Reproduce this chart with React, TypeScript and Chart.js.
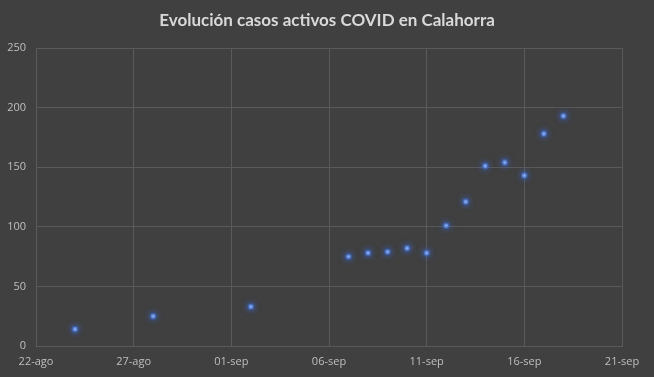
import React, { useEffect, useRef } from "react";
import { Chart, registerables } from "chart.js";

Chart.register(...registerables);

const TITLE = "Evolución casos activos COVID en Calahorra";
const dates = ["24-ago", "28-ago", "02-sep", "07-sep", "08-sep", "09-sep", "10-sep", "11-sep", "12-sep", "13-sep", "14-sep", "15-sep", "16-sep", "17-sep", "18-sep"];
const activeCases = [14, 25, 33, 75, 78, 79, 82, 78, 101, 121, 151, 154, 143, 178, 193];
const xTickLabels = ["22-ago", "27-ago", "01-sep", "06-sep", "11-sep", "16-sep", "21-sep"];
const yTicks = [0, 50, 100, 150, 200, 250];

const MONTH_START: Record<string, number> = { ago: 0, sep: 31 };
const dayIndex = (s: string) => {
  const [d, m] = s.split("-");
  return MONTH_START[m] + parseInt(d, 10) - 22;
};

const glow = {
  id: "glow",
  beforeDatasetsDraw(chart: any) {
    const ctx = chart.ctx;
    ctx.save();
    ctx.shadowColor = "rgba(60,110,230,1)";
    ctx.shadowBlur = 6;
  },
  afterDatasetsDraw(chart: any) {
    chart.ctx.restore();
  },
};

const bg = {
  id: "bg",
  beforeDraw(chart: any) {
    const ctx = chart.ctx;
    ctx.save();
    ctx.fillStyle = "#404040";
    ctx.fillRect(0, 0, chart.width, chart.height);
    ctx.restore();
  },
};

const centeredTitle = {
  id: "centeredTitle",
  afterDraw(chart: any) {
    const ctx = chart.ctx;
    ctx.save();
    ctx.font = "bold 17px Lato";
    ctx.fillStyle = "#d9d9d9";
    ctx.textAlign = "center";
    ctx.textBaseline = "middle";
    ctx.fillText(TITLE, chart.width / 2, 21);
    ctx.restore();
  },
};

export default function App() {
  const ref = useRef<HTMLCanvasElement>(null);
  useEffect(() => {
    document.body.style.margin = "0";
    document.body.style.background = "#404040";
    const font = "Open Sans";
    const chart = new Chart(ref.current!, {
      type: "scatter",
      data: {
        datasets: [
          {
            data: dates.map((d, i) => ({ x: dayIndex(d), y: activeCases[i] })),
            backgroundColor: "#a9c4f2",
            borderColor: "rgba(66,110,200,0.55)",
            borderWidth: 2.5,
            pointRadius: 2.2,
          },
        ],
      },
      options: {
        animation: false,
        responsive: false,
        layout: { padding: { left: 0, right: 32, top: 48, bottom: 0 } },
        plugins: {
          legend: { display: false },
          tooltip: { enabled: false },
          title: { display: false },
        },
        scales: {
          x: {
            type: "linear",
            min: 0,
            max: 30,
            afterBuildTicks: (s: any) => {
              s.ticks = xTickLabels.map((l) => ({ value: dayIndex(l) }));
            },
            afterFit: (s: any) => {
              s.height = 31;
            },
            ticks: {
              color: "#bfbfbf",
              font: { family: font, size: 11 },
              padding: 9,
              maxRotation: 0,
              callback: (v: any) => xTickLabels.find((l) => dayIndex(l) === v) ?? "",
            },
            grid: { color: "#5a5a5a", drawTicks: false },
            border: { color: "#5a5a5a" },
          },
          y: {
            min: 0,
            max: 250,
            afterBuildTicks: (s: any) => {
              s.ticks = yTicks.map((v) => ({ value: v }));
            },
            afterFit: (s: any) => {
              s.width = 36;
            },
            ticks: {
              color: "#bfbfbf",
              font: { family: font, size: 11 },
              padding: 10,
            },
            grid: { color: "#5a5a5a", drawTicks: false },
            border: { color: "#5a5a5a" },
          },
        },
      },
      plugins: [bg, glow, centeredTitle],
    });
    return () => chart.destroy();
  }, []);
  return (
    <div style={{ width: 654, height: 377, background: "#404040" }}>
      <canvas ref={ref} width={654} height={377} style={{ display: "block" }} />
    </div>
  );
}
